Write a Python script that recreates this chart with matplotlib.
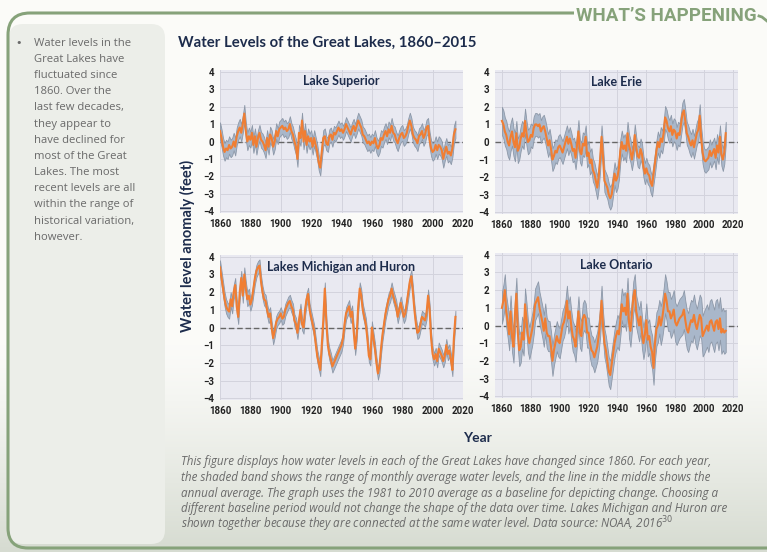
import numpy as np
import matplotlib
matplotlib.use("Agg")
import matplotlib.pyplot as plt
from matplotlib.path import Path
from matplotlib.patches import PathPatch, FancyBboxPatch

W, H = 767, 552

years = np.arange(1860, 2016)

# annual average anomaly (feet), one row per decade
superior = [
    0.6, 0.2, -0.3, -0.6, -0.4, -0.5, -0.2, -0.4, -0.3, 0.0,
    -0.3, 0.3, 0.6, 0.8, 0.5, 1.0, 1.6, 0.6, 0.0, 0.3,
    0.1, 0.5, -0.2, 0.3, -0.3, 0.2, 0.5, 0.1, 0.0, -0.2,
    -0.5, 0.2, -0.3, 0.4, 0.2, -0.3, 0.0, 0.6, 0.3, 0.7,
    0.8, 0.9, 0.7, 0.8, 0.6, 0.7, 1.0, 0.6, 0.4, 0.0,
    -0.3, -1.0, 0.5, 0.2, 1.2, 0.0, 0.6, -0.2, 0.3, 0.0,
    0.2, -0.3, 0.2, -0.2, -0.6, -1.2, -1.5, -0.6, 0.2, 0.3,
    -0.1, -0.2, 0.3, 0.4, 0.1, 0.5, 0.4, 0.6, 0.8, 0.6,
    0.7, 0.5, 0.7, 1.0, 0.8, 0.6, 0.4, 0.7, 0.9, 0.6,
    0.9, 1.2, 1.0, 0.8, 0.4, 0.3, 0.1, -0.1, 0.0, -0.2,
    0.0, -0.1, 0.2, -0.2, -0.4, -0.2, 0.2, 0.1, 0.4, 0.6,
    0.3, 0.7, 0.5, 0.9, 0.5, 0.4, 0.1, -0.1, 0.2, 0.4,
    0.5, 0.2, 0.3, 0.5, 0.9, 1.2, 0.9, 0.4, 0.2, 0.1,
    -0.1, 0.3, 0.4, 0.6, 0.2, 0.4, 0.8, 0.9, 0.1, -0.4,
    -0.6, -0.5, -0.2, -0.5, -0.2, -0.3, -0.5, -1.0, -0.6, -0.3,
    -0.7, -0.6, -0.8, -0.4, 0.4, 0.7,
]
erie = [
    1.2, 1.0, 0.6, 0.4, 0.0, -0.2, 0.3, 0.6, 0.0, -0.3,
    0.5, -0.5, -0.3, 0.2, 0.5, 0.3, 1.2, 0.5, 0.0, 0.1,
    0.4, 0.3, 0.8, 1.0, 1.0, 0.9, 1.0, 0.6, 0.8, 0.9,
    0.6, 0.2, -0.2, 0.1, -0.4, -1.0, -0.8, -0.5, -0.6, -0.3,
    -0.2, -0.4, -0.6, -0.3, 0.0, 0.3, -0.1, 0.2, -0.1, -0.5,
    -0.4, -0.9, -0.2, 0.6, -0.5, -0.7, -0.1, -0.2, 0.3, -0.8,
    -0.6, -1.2, -1.0, -1.6, -1.8, -2.2, -2.6, -2.0, -1.0, 0.3,
    -0.8, -2.2, -2.4, -2.6, -3.0, -3.2, -3.0, -2.4, -1.8, -2.2,
    -2.0, -1.5, -0.5, 0.0, -0.4, -0.2, -0.5, 0.5, -0.2, -0.5,
    -1.0, -0.5, 0.4, -0.3, -0.8, -0.9, -0.4, -0.7, -1.4, -1.8,
    -1.5, -1.8, -1.9, -2.3, -2.5, -1.8, -1.2, -0.5, 0.0, -0.3,
    0.2, 0.0, 0.5, 1.4, 1.2, 0.8, 0.6, 0.9, 0.4, 0.7,
    0.6, 0.2, 0.5, 0.4, 1.0, 1.6, 1.8, 1.2, 0.5, 0.3,
    0.0, -0.2, 0.1, -0.3, 0.1, 0.5, 0.7, 1.5, 0.2, -0.6,
    -1.0, -1.1, -1.0, -0.9, -0.5, -0.8, -0.6, -0.4, -0.9, -0.2,
    -0.6, 0.3, -0.7, -1.0, -0.6, 0.5,
]
michigan_huron = [
    3.4, 2.8, 2.2, 1.6, 1.2, 1.0, 0.9, 1.6, 1.2, 2.0,
    2.4, 1.2, 0.6, 2.0, 2.8, 1.8, 3.0, 2.2, 1.6, 1.8,
    1.3, 1.6, 2.2, 2.8, 3.2, 3.4, 3.5, 2.6, 2.0, 1.6,
    1.5, 1.0, 0.6, 0.8, 0.0, -0.6, -0.2, 0.3, 0.5, 0.6,
    0.8, 0.5, 0.6, 1.0, 1.2, 1.4, 1.5, 1.2, 1.0, 0.4,
    0.2, -0.3, 0.4, 1.0, 0.2, 0.0, 1.0, 1.6, 1.9, 1.0,
    0.6, 0.2, -0.2, -0.9, -1.6, -2.0, -2.4, -1.0, 0.4, 2.2,
    0.3, -1.0, -1.5, -1.8, -2.2, -2.0, -1.8, -1.6, -1.4, -1.2,
    -1.0, -0.6, 0.2, 0.8, 1.0, 1.2, 0.6, 0.9, -0.2, -1.2,
    -0.4, 1.2, 2.2, 1.8, 1.0, 0.6, 0.2, -0.6, -1.6, -1.8,
    0.0, -0.6, -1.2, -2.0, -2.6, -2.2, -1.2, -0.4, 0.2, 0.8,
    1.2, 1.6, 1.8, 2.2, 1.8, 1.5, 1.2, 0.6, 1.0, 1.4,
    1.0, 0.6, 0.8, 1.4, 2.0, 2.6, 2.9, 2.0, 1.0, 0.2,
    -0.3, -0.2, 0.2, 0.6, 0.5, 0.4, 0.8, 1.8, 1.0, -0.6,
    -1.5, -1.8, -1.5, -1.9, -1.2, -1.4, -1.6, -1.9, -1.6, -1.0,
    -1.5, -1.3, -1.8, -2.4, -0.6, 0.6,
]
ontario = [
    1.0, 1.4, 2.0, 0.8, 0.2, -0.5, 0.8, -0.6, -1.2, 0.6,
    1.8, -0.4, -1.4, -1.2, -0.4, -0.8, 1.2, 0.4, -0.6, -1.0,
    -0.6, -0.2, 0.4, 1.2, 1.4, 1.6, 1.0, 0.6, 0.2, -0.3,
    0.4, -0.4, -0.6, -0.6, -1.2, -2.0, -1.4, -1.0, -0.6, -0.9,
    -1.0, -0.5, 0.0, 0.2, 0.6, 1.4, 0.4, 0.8, 0.0, -0.6,
    -0.8, -1.2, -0.2, 0.8, -0.4, -0.6, 0.4, 0.6, 0.4, -0.4,
    -0.4, -1.0, -1.4, -1.5, -1.8, -1.5, -1.2, -0.6, 0.2, 1.4,
    0.0, -1.0, -1.4, -2.0, -2.6, -2.8, -2.2, -1.6, -1.0, -0.6,
    -0.3, -0.5, 0.3, 1.2, 0.8, 1.0, 0.6, 1.8, 0.2, -0.3,
    0.6, 1.6, 2.0, 0.8, 0.4, 0.0, 0.5, -0.4, -1.0, -0.5,
    0.3, -0.8, -0.6, -1.2, -1.5, -2.4, -1.0, -0.2, 0.0, 0.5,
    0.0, 0.4, 1.0, 1.8, 1.4, 0.8, 0.8, 0.4, 0.6, 0.9,
    0.2, 0.0, 0.2, 0.4, 0.5, 0.6, 0.9, 0.3, -0.2, -0.4,
    0.0, 0.3, 0.2, 0.6, 0.1, -0.2, 0.2, 0.6, 0.4, -0.6,
    -0.4, -0.2, 0.0, -0.3, 0.2, 0.3, 0.0, -0.3, 0.2, 0.3,
    -0.2, 0.4, -0.4, -0.2, -0.4, -0.3,
]

# half range of monthly averages, per decade (1860s ... 2010s)
superior_spread = [0.5, 0.5, 0.45, 0.45, 0.45, 0.45, 0.45, 0.4, 0.4, 0.45, 0.45, 0.45, 0.45, 0.45, 0.5, 0.5]
erie_spread = [0.8, 0.7, 0.65, 0.65, 0.65, 0.65, 0.65, 0.65, 0.65, 0.6, 0.6, 0.65, 0.65, 0.65, 0.65, 0.65]
michigan_huron_spread = [0.4, 0.4, 0.35, 0.35, 0.35, 0.35, 0.35, 0.35, 0.35, 0.35, 0.35, 0.35, 0.35, 0.35, 0.35, 0.35]
ontario_spread = [0.9, 0.9, 0.9, 0.85, 0.85, 0.85, 0.85, 0.8, 0.9, 0.9, 0.95, 1.1, 1.1, 1.15, 1.2, 1.2]

lake_names = ["Lake Superior", "Lake Erie", "Lakes Michigan and Huron", "Lake Ontario"]
lake_values = [superior, erie, michigan_huron, ontario]
lake_spreads = [superior_spread, erie_spread, michigan_huron_spread, ontario_spread]

bullet_lines = [
    "Water levels in the", "Great Lakes have", "fluctuated since", "1860. Over the",
    "last few decades,", "they appear to", "have declined for", "most of the Great",
    "Lakes. The most", "recent levels are all", "within the range of",
    "historical variation,", "however.",
]
caption_lines = [
    "This figure displays how water levels in each of the Great Lakes have changed since 1860. For each year,",
    "the shaded band shows the range of monthly average water levels, and the line in the middle shows the",
    "annual average. The graph uses the 1981 to 2010 average as a baseline for depicting change. Choosing a",
    "different baseline period would not change the shape of the data over time. Lakes Michigan and Huron are",
    r"shown together because they are connected at the same water level. Data source: NOAA, 2016$^{30}$",
]

GREEN = "#86a27a"
NAVY = "#1d2c4c"
ORANGE = "#f07e33"
BAND = "#a9b7ca"
PANEL_BG = "#e9e9f1"
TEXT_GRAY = "#6a6a6a"


def box(x0, y0, x1, y1):
    return [x0 / W, 1 - y1 / H, (x1 - x0) / W, (y1 - y0) / H]


fig = plt.figure(figsize=(W / 100, H / 100), dpi=100)

# page background in pixel coordinates
bg = fig.add_axes([0, 0, 1, 1])
bg.set_xlim(0, W)
bg.set_ylim(H, 0)
bg.axis("off")
grad = np.linspace(0, 1, 200)[:, None]
grad = np.clip((grad - 0.62) / 0.38, 0, 1) ** 1.3
top_col = np.array([0.985, 0.985, 0.975])
bot_col = np.array([0.84, 0.86, 0.82])
img = top_col + grad[..., None] * (bot_col - top_col)
bg.imshow(np.repeat(img, 2, axis=1), extent=(0, W, H, 0), aspect="auto", zorder=0)

# left side column
left_box = FancyBboxPatch((9, 24), 156, 520, boxstyle="round,pad=0,rounding_size=14",
                          fc="#eceee9", ec="none", zorder=1)
bg.add_patch(left_box)

# green frame
verts = [(574, 13), (30, 13), (8, 13), (8, 35), (8, 528), (8, 548), (28, 548), (W + 5, 548)]
codes = [Path.MOVETO, Path.LINETO, Path.CURVE3, Path.CURVE3, Path.LINETO, Path.CURVE3, Path.CURVE3, Path.LINETO]
bg.add_patch(PathPatch(Path(verts, codes), fc="none", ec=GREEN, lw=2.2, zorder=2, capstyle="butt"))
bg.plot([759, 762, 767], [16, 17, 21], color=GREEN, lw=2.0, zorder=2)
bg.text(666, 16, "WHAT\u2019S HAPPENING", color=GREEN, fontsize=13.5, fontweight="bold",
        family="Roboto", ha="center", va="center", zorder=3)

# bullet text
bg.text(19, 43, "\u2022", color=TEXT_GRAY, fontsize=8, ha="center", va="center", zorder=3)
for i, line in enumerate(bullet_lines):
    bg.text(34, 43 + i * 16.2, line, color=TEXT_GRAY, fontsize=8.1, family="Open Sans",
            ha="left", va="center", zorder=3)

bg.text(178, 43, "Water Levels of the Great Lakes, 1860\u20132015", color=NAVY, fontsize=10.7,
        fontweight="bold", family="Lato", ha="left", va="center", zorder=3)
bg.text(187, 246, "Water level anomaly (feet)", color=NAVY, fontsize=10.5, fontweight="bold",
        family="Lato", rotation=90, ha="center", va="center", zorder=3)
bg.text(477, 438, "Year", color=NAVY, fontsize=10, fontweight="bold", family="Lato",
        ha="center", va="center", zorder=3)
for i, line in enumerate(caption_lines):
    bg.text(181, 462 + i * 15.6, line, color=TEXT_GRAY, fontsize=8.4, family="Open Sans",
            style="italic", ha="left", va="center", zorder=3)

# panel positions (pixels): left, top, right, bottom
panel_boxes = [(220, 70, 463, 213), (495, 70, 738, 214), (220, 255, 463, 400), (495, 253, 738, 398)]
panel_xlims = [(1860, 2020), (1855.2, 2023.5), (1860, 2020), (1855.2, 2023.5)]
decade_idx = (years - 1860) // 10

for name, vals, spr, pb, xl in zip(lake_names, lake_values, lake_spreads, panel_boxes, panel_xlims):
    ax = fig.add_axes(box(*pb))
    ax.set_facecolor(PANEL_BG)
    vals = np.array(vals)
    half = np.array(spr)[decade_idx]
    ax.fill_between(years, vals - half, vals + half, facecolor=BAND, edgecolor="#8d98a8",
                    lw=0.6, zorder=2)
    ax.plot(years, vals, color=ORANGE, lw=1.5, zorder=3)
    ax.axhline(0, color="#666666", lw=1.0, ls=(0, (4, 2)), zorder=1)
    ax.set_xlim(*xl)
    ax.set_ylim(-4.1, 4.1)
    ax.set_xticks(np.arange(1860, 2021, 20))
    ax.set_yticks(np.arange(-4, 5, 1))
    ax.grid(True, color="#d3d3dd", lw=0.7, zorder=0)
    ax.set_axisbelow(True)
    for s in ax.spines.values():
        s.set_visible(False)
    ax.tick_params(length=0, pad=4, labelsize=7, labelcolor="#222222")
    for lab in ax.get_xticklabels() + ax.get_yticklabels():
        lab.set_fontweight("bold")
        lab.set_family("Roboto")
    ax.text(0.5, 0.92, name, transform=ax.transAxes, color=NAVY, fontsize=9, fontweight="bold",
            family="Lato", ha="center", va="center", zorder=4)

fig.savefig("out.png", dpi=100)
